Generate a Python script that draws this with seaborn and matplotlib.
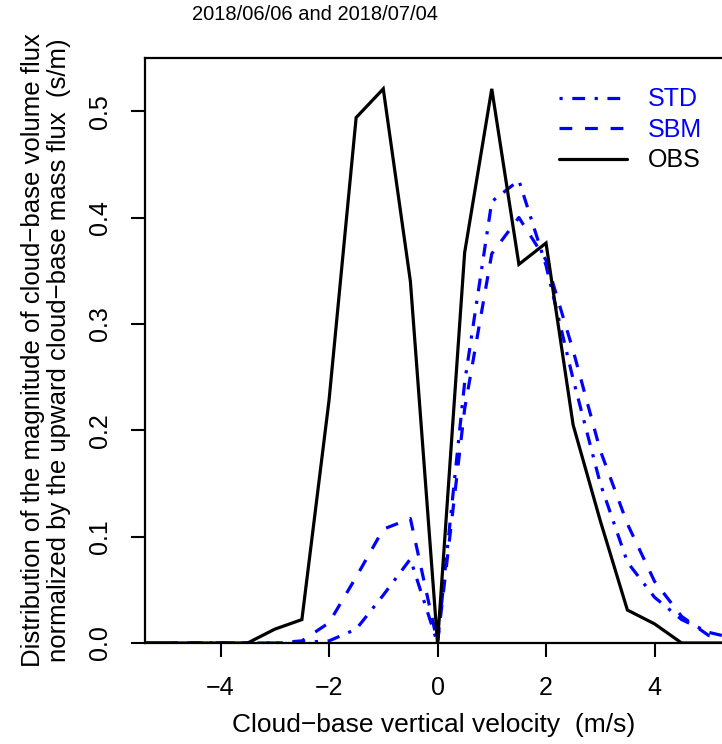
import numpy as np
import pandas as pd
import matplotlib
matplotlib.use("Agg")
import matplotlib.pyplot as plt
import seaborn as sns

# ---- data ----
velocity = [-5.5, -5.0, -4.5, -4.0, -3.5, -3.0, -2.5, -2.0, -1.5, -1.0, -0.5, 0.0,
            0.5, 1.0, 1.5, 2.0, 2.5, 3.0, 3.5, 4.0, 4.5, 5.0, 5.5]
obs = [0, 0, 0, 0, 0, 0.013, 0.022, 0.228, 0.494, 0.521, 0.340, 0.0,
       0.367, 0.521, 0.356, 0.376, 0.205, 0.115, 0.031, 0.018, 0, 0, 0]
std = [0, 0, 0, 0, 0, 0, 0.0005, 0.002, 0.013, 0.045, 0.079, 0.0,
       0.245, 0.415, 0.435, 0.355, 0.248, 0.150, 0.076, 0.043, 0.022, 0.010, 0.004]
sbm = [0, 0, 0, 0, 0, 0, 0.002, 0.019, 0.062, 0.107, 0.117, 0.0,
       0.220, 0.366, 0.400, 0.360, 0.275, 0.181, 0.112, 0.058, 0.025, 0.007, 0.002]
series_names = ["STD", "SBM", "OBS"]
x_ticks = [-4, -2, 0, 2, 4]
y_ticks = [0.0, 0.1, 0.2, 0.3, 0.4, 0.5]
title = "2018/06/06 and 2018/07/04"
xlabel = "Cloud\u2212base vertical velocity  (m/s)"
ylabel = ("Distribution of the magnitude of cloud\u2212base volume flux\n"
          "normalized by the upward cloud\u2212base mass flux  (s/m)")

df = pd.DataFrame({
    "velocity": velocity * 3,
    "value": std + sbm + obs,
    "series": ["STD"] * len(velocity) + ["SBM"] * len(velocity) + ["OBS"] * len(velocity),
})

sns.set_theme(style="ticks")
plt.rcParams["font.family"] = ["Liberation Sans", "DejaVu Sans"]
plt.rcParams["axes.unicode_minus"] = True

fig = plt.figure(figsize=(7.22, 7.44), dpi=100)
ax = fig.add_axes([145 / 722, 1 - 643 / 744, 1 - 145 / 722, (643 - 58) / 744])

styles = {
    "STD": dict(color="#0000FF", dashes=(1, 3, 4, 3)),
    "SBM": dict(color="#0000FF", dashes=(4, 4)),
    "OBS": dict(color="#000000", dashes=None),
}
for name in series_names:
    sub = df[df["series"] == name]
    st = styles[name]
    sns.lineplot(data=sub, x="velocity", y="value", ax=ax, color=st["color"],
                 label=name, legend=False, linewidth=2.3)
    ln = ax.get_lines()[-1]
    ln.set_solid_joinstyle("miter")
    if st["dashes"] is not None:
        ln.set_dashes(st["dashes"])
        ln.set_dash_capstyle("butt")

ax.set_xlim(-5.392, 5.244)
ax.set_ylim(0, 0.55)
ax.set_xticks(x_ticks)
ax.set_yticks(y_ticks)
ax.set_xticklabels([f"{t:g}".replace("-", "\u2212") for t in x_ticks])
ax.set_yticklabels([f"{t:.1f}" for t in y_ticks])

for side in ["left", "top", "bottom"]:
    ax.spines[side].set_visible(True)
    ax.spines[side].set_linewidth(1.6)
    ax.spines[side].set_color("black")
ax.spines["right"].set_visible(False)

ax.tick_params(axis="both", direction="out", length=10, width=1.5, color="black",
               labelsize=18, labelcolor="black")
ax.tick_params(axis="x", pad=14)
ax.tick_params(axis="y", pad=14)
plt.setp(ax.get_yticklabels(), rotation=90, va="center")

ax.set_xlabel(xlabel, fontsize=19, labelpad=9, color="black")
ax.set_ylabel(ylabel, fontsize=18.5, labelpad=12, color="black", linespacing=1.1)
fig.text(315 / 722, 1 - 15 / 744, title, fontsize=14.5, ha="center", va="center",
         color="black")

# legend
handles = ax.get_lines()[:3]
leg = ax.legend(handles, series_names, loc="upper left",
                bbox_to_anchor=(0.718, 0.95), frameon=False, fontsize=18,
                handlelength=2.7, handletextpad=0.85, labelspacing=0.26,
                borderpad=0, borderaxespad=0)
for txt, name in zip(leg.get_texts(), series_names):
    txt.set_color(styles[name]["color"])

fig.savefig("out.png", dpi=100)
